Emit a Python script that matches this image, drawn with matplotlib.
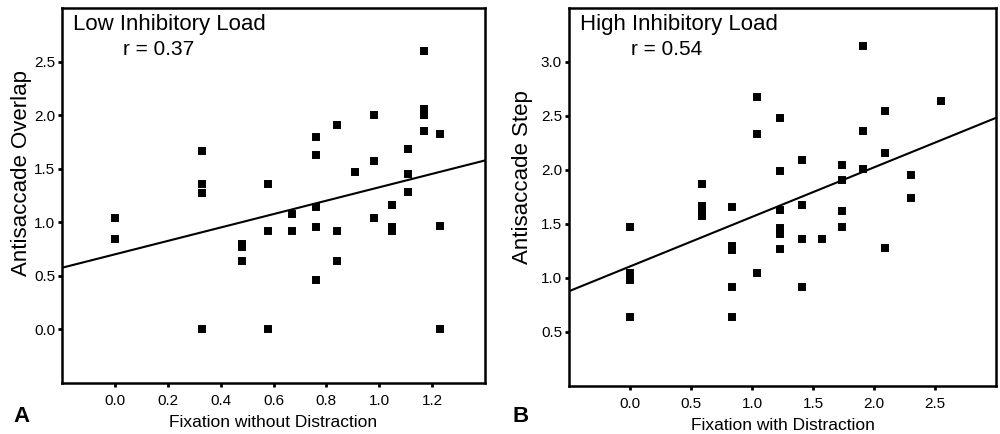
import matplotlib
matplotlib.use("Agg")
import matplotlib.pyplot as plt
import numpy as np

plt.rcParams['font.family'] = ['Liberation Sans', 'DejaVu Sans']

# panel A - low inhibitory load
low_x = [0.0, 0.0, 0.33, 0.33, 0.33, 0.33, 0.48, 0.48, 0.48, 0.58, 0.58, 0.58,
         0.67, 0.67, 0.76, 0.76, 0.76, 0.76, 0.76, 0.84, 0.84, 0.84, 0.91,
         0.98, 0.98, 0.98, 1.05, 1.05, 1.05, 1.11, 1.11, 1.11,
         1.17, 1.17, 1.17, 1.17, 1.23, 1.23, 1.23]
low_y = [1.04, 0.84, 1.67, 1.36, 1.27, 0.0, 0.80, 0.77, 0.64, 1.36, 0.92, 0.0,
         1.08, 0.92, 1.80, 1.63, 1.14, 0.96, 0.46, 1.91, 0.92, 0.64, 1.47,
         2.00, 1.57, 1.04, 1.16, 0.96, 0.92, 1.68, 1.45, 1.28,
         2.60, 2.06, 2.00, 1.85, 1.82, 0.97, 0.0]
low_fit = (0.701, 0.626)  # intercept, slope

# panel B - high inhibitory load
high_x = [0.0, 0.0, 0.0, 0.0, 0.59, 0.59, 0.59, 0.59, 0.84, 0.84, 0.84, 0.84, 0.84,
          1.04, 1.04, 1.04, 1.23, 1.23, 1.23, 1.23, 1.23, 1.23,
          1.41, 1.41, 1.41, 1.41, 1.57, 1.74, 1.74, 1.74, 1.74,
          1.91, 1.91, 1.91, 2.09, 2.09, 2.09, 2.30, 2.30, 2.55]
high_y = [1.47, 1.05, 0.98, 0.64, 1.87, 1.67, 1.63, 1.57, 1.66, 1.30, 1.26, 0.92, 0.64,
          2.68, 2.33, 1.05, 2.48, 1.99, 1.63, 1.46, 1.41, 1.27,
          2.09, 1.68, 1.36, 0.92, 1.36, 2.05, 1.91, 1.62, 1.47,
          3.15, 2.36, 2.01, 2.55, 2.16, 1.28, 1.95, 1.74, 2.64]
high_fit = (1.107, 0.4586)

panels = [
    dict(x=low_x, y=low_y, fit=low_fit, xlim=(-0.2, 1.4), ylim=(-0.5, 3.0),
         xticks=np.arange(0, 1.21, 0.2), yticks=np.arange(0, 2.51, 0.5),
         title="Low Inhibitory Load", r="r = 0.37",
         xlabel="Fixation without Distraction", ylabel="Antisaccade Overlap",
         letter="A", letter_x=0.013, ylab_pos=(-0.071, 0.56),
         rect=[0.062, 0.1175, 0.423, 0.864]),
    dict(x=high_x, y=high_y, fit=high_fit, xlim=(-0.5, 3.0), ylim=(0.0, 3.5),
         xticks=np.arange(0, 2.51, 0.5), yticks=np.arange(0.5, 3.01, 0.5),
         title="High Inhibitory Load", r="r = 0.54",
         xlabel="Fixation with Distraction", ylabel="Antisaccade Step",
         letter="B", letter_x=0.512, ylab_pos=(-0.084, 0.553),
         rect=[0.569, 0.1106, 0.427, 0.871]),
]

tick_font = ['Liberation Sans Narrow', 'Liberation Sans', 'DejaVu Sans']

fig = plt.figure(figsize=(10, 4.34), dpi=100)

for p in panels:
    ax = fig.add_axes(p['rect'])
    ax.plot(p['x'], p['y'], 's', color='black', ms=5, mew=1.4,
            markeredgecolor='black')
    xs = np.array(p['xlim'])
    ax.plot(xs, p['fit'][0] + p['fit'][1] * xs, color='black', lw=1.5)
    ax.set_xlim(p['xlim'])
    ax.set_ylim(p['ylim'])
    ax.set_xticks(p['xticks'])
    ax.set_yticks(p['yticks'])
    ax.set_xticklabels(["%.1f" % v for v in p['xticks']], family=tick_font)
    ax.set_yticklabels(["%.1f" % v for v in p['yticks']], family=tick_font)
    ax.tick_params(direction='out', length=3, width=2, labelsize=11)
    ax.tick_params(axis='x', pad=5)
    ax.tick_params(axis='y', pad=2)
    for s in ax.spines.values():
        s.set_linewidth(1.8)
    ax.set_xlabel(p['xlabel'], fontsize=12.5, labelpad=5)
    ax.set_ylabel(p['ylabel'], fontsize=16)
    ax.yaxis.set_label_coords(*p['ylab_pos'])
    ax.text(0.025, 0.985, p['title'], transform=ax.transAxes, fontsize=16,
            va='top', ha='left')
    ax.text(0.145, 0.915, p['r'], transform=ax.transAxes, fontsize=15,
            va='top', ha='left')
    fig.text(p['letter_x'], 0.0276, p['letter'], fontsize=16,
             fontweight='bold', ha='left', va='baseline')

fig.savefig("out.png", dpi=100)
